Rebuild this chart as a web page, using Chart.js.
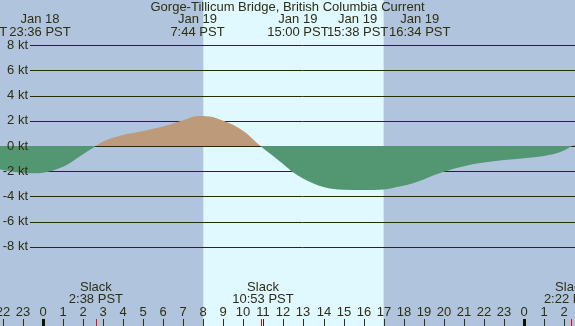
<!DOCTYPE html>
<html>
<head>
<meta charset="utf-8">
<script src="https://cdn.jsdelivr.net/npm/chart.js@4.4.1/dist/chart.umd.min.js"></script>
<style>
  body { margin: 0; background: #b0c4de; }
  #wrap { width: 575px; height: 326px; }
</style>
</head>
<body>
<div id="wrap"><canvas id="myChart" width="575" height="326"></canvas></div>
<script>
// hours since Jan 19 00:00 PST, current in knots (+ flood / - ebb)
const hours = [-2.2, -2, -1, -0.5, 0, 1, 2, 2.64, 3, 4, 5, 6, 7, 7.73, 8.3, 9, 10, 10.85, 11, 12, 12.4, 13, 14, 15, 16, 17, 17.8, 18.5, 19, 19.5, 20, 20.5, 21, 22, 23, 24, 25, 26, 26.4, 26.7];
const knots = [-1.82, -1.9, -2.14, -2.17, -2.13, -1.65, -0.65, 0, 0.35, 0.88, 1.2, 1.55, 2.05, 2.38, 2.35, 2.0, 1.2, 0, -0.2, -1.45, -2.0, -2.6, -3.25, -3.47, -3.5, -3.45, -3.22, -2.94, -2.66, -2.33, -2.04, -1.8, -1.6, -1.32, -1.12, -0.97, -0.8, -0.35, 0, 0.2];

const yTicks = [8, 6, 4, 2, 0, -2, -4, -6, -8];
const daylight = [8, 17]; // sunrise / sunset band

// top event labels: [position in hours, line 1, line 2]
const topLabels = [
    [-3.32, 'Jan 18', '22:08 PST'],
    [-0.15, 'Jan 18', '23:36 PST'],
    [7.71, 'Jan 19', '7:44 PST'],
    [12.72, 'Jan 19', '15:00 PST'],
    [15.7, 'Jan 19', '15:38 PST'],
    [18.8, 'Jan 19', '16:34 PST']
];
// slack water: [time in hours, text position in hours, label]
const slacks = [
    [2.63, 2.64, '2:38 PST'],
    [10.88, 10.98, '10:53 PST'],
    [26.37, 26.35, '2:22 PST']
];
const title = 'Gorge-Tillicum Bridge, British Columbia Current';

const textColor = '#2e2e10';
const font = '13px "Liberation Sans", Arial, sans-serif';

const backdrop = {
    id: 'backdrop',
    beforeDatasetsDraw(chart) {
        const { ctx, scales: { x, y }, width, height } = chart;
        ctx.save();
        ctx.fillStyle = '#b0c4de';
        ctx.fillRect(0, 0, width, height);
        ctx.fillStyle = '#e0f8ff';
        const x0 = x.getPixelForValue(daylight[0]);
        const x1 = x.getPixelForValue(daylight[1]);
        ctx.fillRect(x0, 0, x1 - x0, height);

        // grid lines sit under the fill
        ctx.strokeStyle = '#2a2a08';
        ctx.lineWidth = 1;
        yTicks.forEach(v => {
            const py = Math.round(y.getPixelForValue(v)) + 0.5;
            ctx.beginPath();
            ctx.moveTo(30, py);
            ctx.lineTo(width, py);
            ctx.stroke();
        });
        ctx.restore();
    },
    afterDatasetsDraw(chart) {
        const { ctx, scales: { x, y }, width, height } = chart;
        ctx.save();
        ctx.font = font;
        ctx.fillStyle = textColor;
        ctx.textBaseline = 'middle';

        // y labels
        ctx.textAlign = 'right';
        yTicks.forEach(v => {
            ctx.fillText(v + ' kt', 28, y.getPixelForValue(v));
        });

        // title and top events
        ctx.textAlign = 'center';
        ctx.fillText(title, width / 2, 7);
        topLabels.forEach(([h, a, b]) => {
            const px = x.getPixelForValue(h);
            ctx.fillText(a, px, 19);
            ctx.fillText(b, px, 32);
        });

        // slack labels
        slacks.forEach(([t, h, s]) => {
            const px = x.getPixelForValue(h);
            ctx.fillText('Slack', px, 287);
            ctx.fillText(s, px, 299);
        });

        // hour ticks along the bottom
        for (let h = -2; h <= 26; h++) {
            const px = Math.round(x.getPixelForValue(h));
            ctx.fillText(String(((h % 24) + 24) % 24), px, 312);
            if (h % 24 === 0) {
                ctx.fillStyle = '#111100';
                ctx.fillRect(px - 1, 319, 3, height - 319);
                ctx.fillStyle = textColor;
            } else {
                ctx.fillRect(px, 319, 1, height - 319);
            }
        }
        ctx.fillStyle = '#ff0000';
        slacks.forEach(([t]) => {
            const px = Math.round(x.getPixelForValue(t));
            ctx.fillRect(px, 319, 1, height - 319);
        });
        ctx.restore();
    }
};

const points = hours.map((h, i) => ({ x: h, y: knots[i] }));

new Chart(document.getElementById('myChart'), {
    type: 'line',
    data: {
        datasets: [{
            data: points,
            borderWidth: 0,
            borderColor: 'rgba(0,0,0,0)',
            pointRadius: 0,
            cubicInterpolationMode: 'monotone',
            fill: { target: { value: 0 }, above: '#bd9a7a', below: '#529672' }
        }]
    },
    options: {
        responsive: false,
        animation: false,
        events: [],
        layout: { padding: 0 },
        plugins: { legend: { display: false }, tooltip: { enabled: false } },
        scales: {
            x: { type: 'linear', display: false, min: -2.146, max: 26.55 },
            y: { display: false, min: -14.29, max: 11.59 }
        }
    },
    plugins: [backdrop]
});
</script>
</body>
</html>
